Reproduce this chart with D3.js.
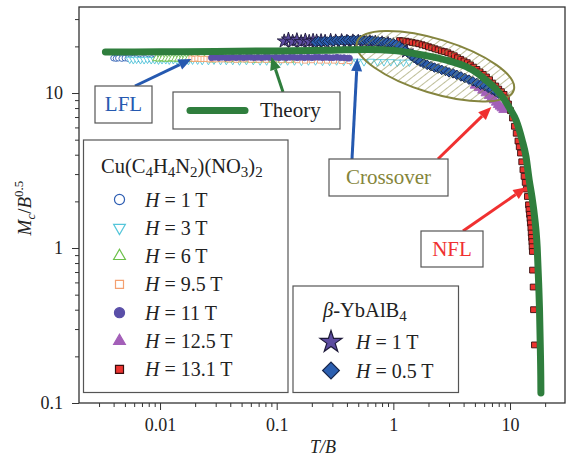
<!DOCTYPE html>
<html><head><meta charset="utf-8">
<script src="https://cdn.jsdelivr.net/npm/d3@7"></script>
<style>
html,body{margin:0;padding:0;background:#fff}
svg{display:block}
svg text{font-family:"Liberation Serif","Times New Roman",Times,serif !important}
</style>
</head><body><svg id="chart" width="568" height="458"></svg>
<script>
// ---- Cu(C4H4N2)(NO3)2 : Mc/B^0.5 versus T/B for each field ----
const tb1 = [0.0040,0.0042,0.0044,0.0047,0.0050,0.0053,0.0056,0.0059,0.0063,0.0067,0.0071,0.0075,0.0080,0.0085,0.0090,0.0096,0.0102];
const m1  = [16.8,16.7,16.8,16.7,16.8,16.7,16.7,16.8,16.7,16.6,16.7,16.7,16.6,16.7,16.6,16.6,16.6];

const tb3 = [0.0055,0.0059,0.0063,0.0068,0.0073,0.0078,0.0084,0.0090,0.0097,0.0104,
             0.0112,0.0120,0.0130,0.0140,0.0150,0.0162,0.0175,0.0190,0.0210,0.0230,
             0.0260,0.0290,0.0330,0.0370,0.0420,0.0480,0.0550,0.0630,0.0720,0.0820,
             0.0940,0.108,0.124,0.142,0.163,0.187,0.215,0.247,0.284,0.326,
             0.375,0.430,0.490,0.560,0.640,0.730,0.830,0.950,1.08,1.22,1.37];
const m3  = [16.5,16.4,16.5,16.4,16.4,16.5,16.4,16.4,16.3,16.4,
             16.4,16.3,16.4,16.3,16.3,16.3,16.2,16.3,16.3,16.2,
             16.2,16.3,16.2,16.2,16.2,16.1,16.2,16.2,16.1,16.1,
             16.2,16.1,16.1,16.1,16.0,16.1,16.1,16.0,16.0,16.1,
             16.0,16.0,16.0,15.9,16.0,15.9,15.9,15.9,15.8,15.8,15.8];

const tb6 = [0.0093,0.0099,0.0105,0.0112,0.0119,0.0127,0.0135,0.0144,0.0153,0.0163,0.0174,0.0186,
             0.021,0.024,0.028,0.033,0.039,0.046,0.055,0.065,0.078,0.093,0.110,0.130];
const m6  = [16.7,16.6,16.7,16.6,16.6,16.7,16.6,16.6,16.5,16.6,16.6,16.5,
             16.5,16.5,16.4,16.5,16.4,16.4,16.4,16.3,16.4,16.3,16.3,16.3];

const tb95 = [0.0186,0.0197,0.0209,0.0222,0.0236,0.0250,0.0266,0.0283,0.0300,0.034,0.039,0.045,0.052,0.060,
              0.070,0.081,0.094,0.110,0.128,0.150,0.175,0.200,0.235,0.270,0.310,0.360,0.420];
const m95  = [16.7,16.6,16.7,16.6,16.6,16.6,16.5,16.6,16.5,16.5,16.5,16.4,16.5,16.4,
              16.4,16.4,16.4,16.3,16.3,16.3,16.2,16.3,16.2,16.2,16.2,16.1,16.1];

const tb11 = [0.0276,0.0296,0.0318,0.0340,0.0366,0.0392,0.0420,0.0450,0.0484,0.0520,
              0.0558,0.0600,0.0643,0.0690,0.0740,0.0795,0.0853,0.0915,0.0980,0.105,
              0.113,0.121,0.130,0.140,0.150,0.161,0.173,0.186,0.200,0.214,
              0.230,0.247,0.265,0.284,0.305,0.328,0.352,0.378,0.405,0.420];
const m11  = [16.9,17.0,16.9,17.0,16.9,16.9,17.0,16.9,17.0,16.9,
              17.0,17.0,16.9,17.0,16.9,17.0,17.0,16.9,17.0,16.9,
              17.0,16.9,17.0,17.0,16.9,17.0,16.9,17.0,16.9,17.0,
              17.0,16.9,17.0,16.9,16.9,17.0,16.9,16.9,16.8,16.8];

const tb125 = [5.0,5.4,5.8,6.2,6.6,6.95,7.3,7.6,7.9,8.2,8.5,8.8];
const m125  = [11.2,10.8,10.4,10.0,9.6,9.3,9.0,8.7,8.4,8.2,8.0,7.8];

const tb131 = [1.13,1.20,1.28,1.36,1.45,1.55,1.65,1.76,1.88,2.00,
               2.13,2.27,2.42,2.58,2.75,2.93,3.12,3.33,3.55,3.78,
               4.03,4.30,4.58,4.88,5.20,5.54,5.90,6.28,6.68,7.10,
               7.55,8.00,8.45,8.90,9.30,9.70,10.1,10.5,10.9,11.3,
               11.7,12.0,12.3,12.6,12.9,13.2,13.5,13.8,14.1,14.4,
               14.55,14.7,14.85,14.95,15.1,15.2,15.3,15.4,15.48,15.55,
               15.6,15.8,15.9,16.2];
const m131  = [21.8,21.7,21.6,21.4,21.2,21.0,20.8,20.5,20.2,19.9,
               19.6,19.3,19.0,18.7,18.5,18.2,17.8,17.4,16.9,16.5,
               16.1,15.7,15.2,14.7,14.2,13.7,13.2,12.7,12.2,11.6,
               11.1,10.6,10.2,9.8,9.3,8.5,7.7,6.9,6.1,5.5,
               4.9,4.5,4.1,3.6,3.2,2.9,2.65,2.4,2.15,1.9,
               1.77,1.65,1.55,1.45,1.35,1.25,1.17,1.10,1.02,0.95,
               0.72,0.56,0.40,0.237];

// ---- beta-YbAlB4 ----
const tbStar = [0.116,0.126,0.137,0.149,0.162,0.176,0.190,0.205,0.220,0.240,0.260,0.290,0.320,
                0.360,0.400,0.450,0.500,0.560,0.630,0.700,0.800,0.900,1.00,1.15,1.30];
const mStar  = [21.6,22.2,21.5,22.0,21.4,21.9,21.5,21.8,21.6,21.7,21.5,21.8,21.6,
                21.7,21.5,21.6,21.5,21.4,21.3,21.2,21.0,20.8,20.4,19.6,18.6];

const tbDiamond = [0.215,0.228,0.242,0.257,0.272,0.289,0.306,0.325,0.344,0.365,
                   0.387,0.410,0.435,0.462,0.490,0.520,0.550,0.585,0.620,0.660,
                   0.700,0.740,0.785,0.830,0.880,0.940,1.00,1.06,1.12,1.19,
                   1.26,1.34,1.42,1.51,1.60,1.70,1.82,1.95,2.10,2.25,
                   2.42,2.60,2.80,3.00,3.25,3.50,3.80,4.10,4.45,4.80,
                   5.20,5.60,6.05,6.50,7.00,7.50,8.00];
const mDiamond  = [21.3,21.6,21.4,21.7,21.5,21.8,21.6,21.9,21.7,21.9,
                   21.8,22.0,21.8,22.0,21.9,22.0,21.8,21.9,21.7,21.8,
                   21.6,21.6,21.4,21.4,21.2,21.1,20.9,20.6,20.1,19.5,
                   18.8,18.1,17.4,16.8,16.3,15.9,15.5,15.2,14.9,14.6,
                   14.4,14.1,13.9,13.6,13.4,13.1,12.8,12.5,12.2,11.9,
                   11.6,11.3,11.1,10.8,10.5,10.2,9.9];

// ---- theory curve ----
const tbTheory = [0.0034,0.01,0.03,0.1,0.3,0.6,1.0,1.5,2.16,3.0,4.2,5.2,6.23,7.4,8.59,10.0,11.25,12.7,13.7,14.6,15.4,16.1,16.7,17.1,17.6,17.9,18.2,18.35,18.4];
const mTheory  = [18.4,18.45,18.55,18.7,18.9,19.1,18.8,18.0,17.1,16.1,14.8,13.5,12.1,10.8,9.46,7.9,6.7,4.97,3.9,2.75,2.15,1.68,1.3,1.01,0.594,0.4,0.22,0.15,0.116];

// ---- axes ----
const xMajor = [0.01, 0.1, 1, 10];
const xMinor = [0.003,0.004,0.005,0.006,0.007,0.008,0.009,0.02,0.03,0.04,0.05,0.06,0.07,0.08,0.09,
                0.2,0.3,0.4,0.5,0.6,0.7,0.8,0.9,2,3,4,5,6,7,8,9,20];
const yMajor = [0.1, 1, 10];
const yMinor = [0.2,0.3,0.4,0.5,0.6,0.7,0.8,0.9,2,3,4,5,6,7,8,9,20,30];
const tickText = {0.01: "0.01", 0.1: "0.1", 1: "1", 10: "10"};

const serif = "Liberation Serif";
const svg = d3.select("#chart");
svg.append("rect").attr("width", 568).attr("height", 458).attr("fill", "#fff");

const x = d3.scaleLog().domain([0.00202, 29.6]).range([79, 565]);
const y = d3.scaleLog().domain([0.1, 35.9]).range([403, 7]);

function styleAxis(g) {
  g.attr("font-family", serif).attr("font-size", 18);
  g.select(".domain").remove();
  g.selectAll(".tick line").attr("stroke", "#333").attr("stroke-width", 1);
  g.selectAll(".tick text").attr("font-family", serif).attr("font-size", 18).attr("fill", "#222");
}
svg.append("g").attr("transform", "translate(0,403)")
  .call(d3.axisBottom(x).tickValues(xMinor).tickSize(4).tickFormat(""))
  .call(styleAxis);
svg.append("g").attr("transform", "translate(0,403)")
  .call(d3.axisBottom(x).tickValues(xMajor).tickSize(7).tickPadding(8).tickFormat(d => tickText[d]))
  .call(styleAxis);
svg.append("g").attr("transform", "translate(79,0)")
  .call(d3.axisLeft(y).tickValues(yMinor).tickSize(4).tickFormat(""))
  .call(styleAxis);
svg.append("g").attr("transform", "translate(79,0)")
  .call(d3.axisLeft(y).tickValues(yMajor).tickSize(7).tickPadding(9).tickFormat(d => tickText[d]))
  .call(styleAxis);

// plot frame
svg.append("rect").attr("x", 79).attr("y", 7).attr("width", 486).attr("height", 396)
  .attr("fill", "none").attr("stroke", "#333").attr("stroke-width", 1.3);

// axis titles
svg.append("text").attr("x", 323).attr("y", 453).attr("text-anchor", "middle")
  .attr("font-family", serif).attr("font-size", 18).attr("font-style", "italic").attr("fill", "#222")
  .text("T/B");
const yl = svg.append("text").attr("transform", "translate(31,208) rotate(-90)")
  .attr("text-anchor", "middle").attr("font-family", serif).attr("font-size", 19).attr("fill", "#222");
yl.append("tspan").attr("font-style", "italic").text("M");
yl.append("tspan").attr("font-style", "italic").attr("font-size", 13).attr("dy", 4).text("c");
yl.append("tspan").attr("dy", -4).text("/");
yl.append("tspan").attr("font-style", "italic").text("B");
yl.append("tspan").attr("font-size", 13).attr("dy", -8).text("0.5");

// ---- markers ----
const defs = svg.append("defs");
defs.append("clipPath").attr("id", "plotClip").append("rect")
  .attr("x", 79).attr("y", 7).attr("width", 486).attr("height", 396);
const pat = defs.append("pattern").attr("id", "hatch").attr("width", 6).attr("height", 6)
  .attr("patternUnits", "userSpaceOnUse").attr("patternTransform", "rotate(35)");
pat.append("line").attr("x1", 0).attr("y1", 0).attr("x2", 0).attr("y2", 6)
  .attr("stroke", "#8a8a45").attr("stroke-width", 1.1);

const plot = svg.append("g").attr("clip-path", "url(#plotClip)");

const series = [
  {tb: tb1,  m: m1,  type: d3.symbolCircle,   rot: 0,   size: 26, fill: "#fff",    stroke: "#2f5fb3", lsize: 80},
  {tb: tb3,  m: m3,  type: d3.symbolTriangle, rot: 180, size: 24, fill: "#fff",    stroke: "#55c6da", lsize: 60},
  {tb: tb6,  m: m6,  type: d3.symbolTriangle, rot: 0,   size: 24, fill: "#fff",    stroke: "#6cc04a", lsize: 60},
  {tb: tb95, m: m95, type: d3.symbolSquare,   rot: 0,   size: 26, fill: "#fff",    stroke: "#f4a070", lsize: 64},
  {tb: tb11, m: m11, type: d3.symbolCircle,   rot: 0,   size: 28, fill: "#5a4fa8", stroke: "#5a4fa8", lsize: 80},
  {tb: tb125,m: m125,type: d3.symbolTriangle, rot: 0,   size: 40, fill: "#a35fb8", stroke: "#a35fb8", lsize: 60},
  {tb: tb131,m: m131,type: d3.symbolSquare,   rot: 0,   size: 34, fill: "#ec3430", stroke: "#3a0d0d", lsize: 64},
  {tb: tbStar, m: mStar, type: d3.symbolStar, rot: 0,   size: 60, fill: "#5c4ca0", stroke: "#1e1a3a", lsize: 150},
  {tb: tbDiamond, m: mDiamond, type: d3.symbolSquare, rot: 45, size: 46, fill: "#2b5fb0", stroke: "#16254a", lsize: 140}
];

series.forEach(s => {
  const pts = s.tb.map((t, i) => [t, s.m[i]]).filter(p => p[1] !== undefined);
  plot.append("g").selectAll("path").data(pts).join("path")
    .attr("d", d3.symbol().type(s.type).size(s.size))
    .attr("transform", d => `translate(${x(d[0])},${y(d[1])}) rotate(${s.rot})`)
    .attr("fill", s.fill).attr("stroke", s.stroke).attr("stroke-width", 0.9);
});

// crossover region ellipse
plot.append("ellipse")
  .attr("transform", `translate(${x(2.29)},${y(14.9)}) rotate(17)`)
  .attr("rx", 82).attr("ry", 27)
  .attr("fill", "url(#hatch)").attr("stroke", "#85853f").attr("stroke-width", 2);

// theory
const theory = tbTheory.map((t, i) => [t, mTheory[i]]);
plot.append("path").datum(theory)
  .attr("d", d3.line().x(d => x(d[0])).y(d => y(d[1])).curve(d3.curveMonotoneX))
  .attr("fill", "none").attr("stroke", "#2f7e3d").attr("stroke-width", 7)
  .attr("stroke-linecap", "round").attr("stroke-linejoin", "round");

// ---- annotation arrows ----
function arrow(x1, y1, x2, y2, color) {
  const a = Math.atan2(y2 - y1, x2 - x1), L = 13, W = 5.5;
  const bx = x2 - L * Math.cos(a), by = y2 - L * Math.sin(a);
  svg.append("line").attr("x1", x1).attr("y1", y1).attr("x2", bx).attr("y2", by)
    .attr("stroke", color).attr("stroke-width", 3);
  svg.append("polygon").attr("fill", color).attr("points",
    [[x2, y2], [bx + W * Math.sin(a), by - W * Math.cos(a)], [bx - W * Math.sin(a), by + W * Math.cos(a)]]
      .map(p => p.join(",")).join(" "));
}
const blue = "#2559b0", red = "#f03030", olive = "#85853a", green = "#2f7e3d";

function box(x0, y0, w, h) {
  return svg.append("rect").attr("x", x0).attr("y", y0).attr("width", w).attr("height", h)
    .attr("fill", "#fff").attr("stroke", "#555").attr("stroke-width", 1.2);
}
function label(tx, ty, txt, color, size, anchor) {
  return svg.append("text").attr("x", tx).attr("y", ty).attr("text-anchor", anchor || "middle")
    .attr("font-family", serif).attr("font-size", size).attr("fill", color).text(txt);
}

arrow(135, 86, x(0.0186), y(16.6), blue);
arrow(283, 92, x(0.090), y(17.1), green);
arrow(352, 159, x(0.491), y(16.8), blue);
arrow(438, 159, x(6.92), y(8.12), red);
arrow(463, 231, x(13.8), y(2.47), red);

box(95, 86, 57, 37);
label(123.5, 111, "LFL", blue, 21);

box(173, 92, 167, 37);
svg.append("line").attr("x1", 190).attr("y1", 110.5).attr("x2", 245).attr("y2", 110.5)
  .attr("stroke", green).attr("stroke-width", 7).attr("stroke-linecap", "round");
label(260, 117, "Theory", "#222", 21, "start");

box(329, 159, 119, 37);
label(388.5, 184, "Crossover", olive, 21);

box(421, 231, 62, 36);
label(452, 256, "NFL", red, 21);

// ---- legend: Cu(C4H4N2)(NO3)2 ----
box(83.5, 140, 204.5, 252.5);
const t1 = svg.append("text").attr("x", 101).attr("y", 173).attr("font-family", serif)
  .attr("font-size", 20.5).attr("fill", "#222");
[["Cu(C", 0], ["4", 1], ["H", 0], ["4", 1], ["N", 0], ["2", 1], [")(NO", 0], ["3", 1], [")", 0], ["2", 1]]
  .forEach(([s, sub], i, arr) => {
    const prevSub = i > 0 ? arr[i - 1][1] : 0;
    t1.append("tspan").attr("font-size", sub ? 15 : 20.5)
      .attr("dy", sub && !prevSub ? 4 : (!sub && prevSub ? -4 : 0)).text(s);
  });

const cuLabels = ["1", "3", "6", "9.5", "11", "12.5", "13.1"];
cuLabels.forEach((h, i) => {
  const s = series[i], cy = 199.5 + i * 28.3;
  svg.append("path").attr("d", d3.symbol().type(s.type).size(s.lsize)())
    .attr("transform", `translate(119.5,${cy}) rotate(${s.rot})`)
    .attr("fill", s.fill).attr("stroke", s.stroke).attr("stroke-width", 1.2);
  const t = svg.append("text").attr("x", 145).attr("y", cy + 7).attr("font-family", serif)
    .attr("font-size", 20).attr("fill", "#222");
  t.append("tspan").attr("font-style", "italic").text("H");
  t.append("tspan").text(` = ${h} T`);
});

// ---- legend: beta-YbAlB4 ----
box(293, 286, 165.5, 106.5);
const t2 = svg.append("text").attr("x", 323).attr("y", 317).attr("font-family", serif)
  .attr("font-size", 20.5).attr("fill", "#222");
t2.append("tspan").attr("font-style", "italic").text("\u03B2");
t2.append("tspan").text("-YbAlB");
t2.append("tspan").attr("font-size", 15).attr("dy", 4).text("4");
["1", "0.5"].forEach((h, i) => {
  const s = series[7 + i], cy = 342 + i * 28.5;
  svg.append("path").attr("d", d3.symbol().type(s.type).size(s.lsize)())
    .attr("transform", `translate(331,${cy}) rotate(${s.rot})`)
    .attr("fill", s.fill).attr("stroke", s.stroke).attr("stroke-width", 1.2);
  const t = svg.append("text").attr("x", 356).attr("y", cy + 7).attr("font-family", serif)
    .attr("font-size", 20).attr("fill", "#222");
  t.append("tspan").attr("font-style", "italic").text("H");
  t.append("tspan").text(` = ${h} T`);
});
</script></body></html>
